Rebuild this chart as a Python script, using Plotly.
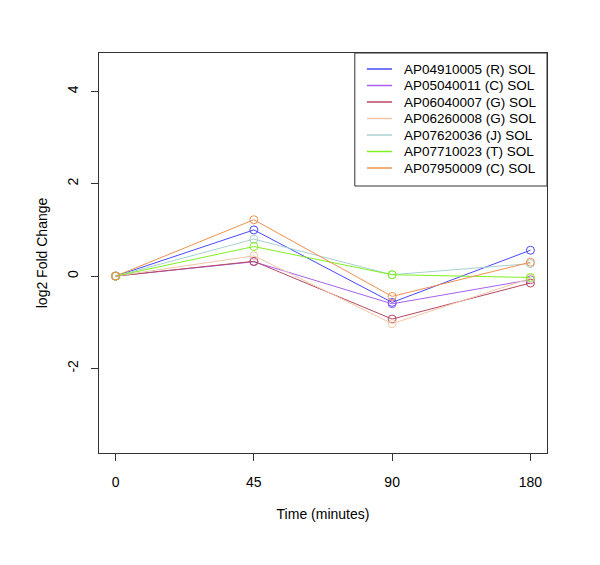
import plotly.graph_objects as go

times = ["0", "45", "90", "180"]
names = [
    "AP04910005 (R) SOL",
    "AP05040011 (C) SOL",
    "AP06040007 (G) SOL",
    "AP06260008 (G) SOL",
    "AP07620036 (J) SOL",
    "AP07710023 (T) SOL",
    "AP07950009 (C) SOL",
]
values = [
    [0.0, 1.00, -0.57, 0.56],
    [0.0, 0.31, -0.60, -0.08],
    [0.0, 0.32, -0.93, -0.15],
    [0.0, 0.44, -1.03, -0.05],
    [0.0, 0.80, 0.03, 0.27],
    [0.0, 0.64, 0.03, -0.03],
    [0.0, 1.22, -0.44, 0.30],
]
colors = ["#4848F8", "#A860F0", "#B84860", "#F0C8A8", "#A8D0D0", "#80F020", "#F09050"]

fig = go.Figure()
for n, v, c in zip(names, values, colors):
    fig.add_trace(go.Scatter(
        x=times, y=v, name=n, mode="lines+markers", showlegend=False,
        line=dict(color=c, width=1),
        marker=dict(symbol="circle-open", size=8, color=c, line=dict(width=1, color=c)),
    ))

font = dict(family="Liberation Sans, Arial, sans-serif", size=14, color="black")

# legend box (R-style), drawn in paper coordinates
lx0, lx1, ly1, ly0 = 0.571, 1.0, 1.0, 0.6675
shapes = [dict(type="rect", xref="paper", yref="paper", x0=lx0, x1=lx1, y0=ly0, y1=ly1,
               line=dict(color="#333", width=1), fillcolor="white", layer="above")]
annotations = []
step = 16.5 / 400
first = (453 - 69) / 400
for i, (n, c) in enumerate(zip(names, colors)):
    yy = first - i * step
    shapes.append(dict(type="line", xref="paper", yref="paper", x0=0.598, x1=0.654,
                       y0=yy, y1=yy, line=dict(color=c, width=1.5), layer="above"))
    annotations.append(dict(xref="paper", yref="paper", x=0.677, y=yy, text=n,
                            showarrow=False, xanchor="left", yanchor="middle",
                            font=dict(family=font["family"], size=13.5, color="black")))

fig.update_layout(
    width=600, height=565,
    paper_bgcolor="white", plot_bgcolor="white",
    margin=dict(l=91, r=61, t=45, b=120, autoexpand=False),
    font=font,
    showlegend=False,
    shapes=shapes,
    annotations=annotations,
    xaxis=dict(type="category", range=[-0.12, 3.12], showgrid=False, zeroline=False,
               automargin=False,
               showline=True, linecolor="#333", linewidth=1, mirror=True,
               ticks="outside", ticklen=7, tickcolor="#333",
               ticklabelstandoff=9,
               title=dict(text="Time (minutes)", standoff=20, font=font)),
    yaxis=dict(range=[-3.83, 4.83], showgrid=False, zeroline=False,
               automargin=False,
               tickvals=[-2, 0, 2, 4], ticktext=["-2", "0", "2", "4"],
               tickangle=-90,
               showline=True, linecolor="#333", linewidth=1, mirror=True,
               ticks="outside", ticklen=7, tickcolor="#333",
               ticklabelstandoff=7,
               title=dict(text="log2 Fold Change", standoff=14, font=font)),
)
fig.write_html("out.html")
